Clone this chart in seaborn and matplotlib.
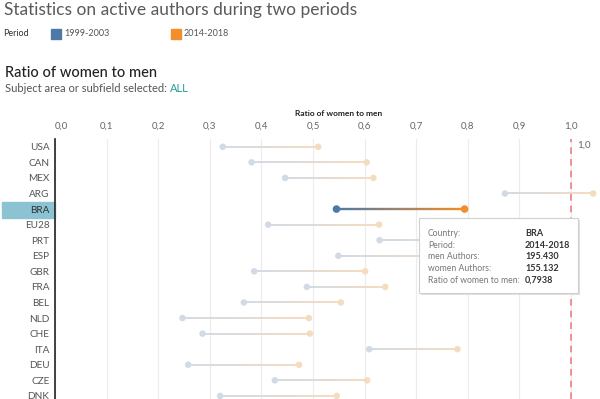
import numpy as np
import pandas as pd
import matplotlib
matplotlib.use("Agg")
import matplotlib.pyplot as plt
import seaborn as sns
from matplotlib.collections import LineCollection
from matplotlib.colors import to_rgb
from matplotlib.patches import Rectangle, FancyBboxPatch

countries = ["USA", "CAN", "MEX", "ARG", "BRA", "EU28", "PRT", "ESP", "GBR",
             "FRA", "BEL", "NLD", "CHE", "ITA", "DEU", "CZE", "DNK"]
ratio_1999_2003 = [0.325, 0.381, 0.446, 0.872, 0.5455, 0.413, 0.629, 0.549, 0.386,
                   0.488, 0.366, 0.247, 0.286, 0.609, 0.258, 0.426, 0.320]
ratio_2014_2018 = [0.510, 0.604, 0.617, 1.043, 0.7938, 0.628, 0.940, 0.780, 0.601,
                   0.640, 0.554, 0.492, 0.494, 0.780, 0.473, 0.605, 0.546]
periods = ["1999-2003", "2014-2018"]
selected = "BRA"
xticks = [0.0, 0.1, 0.2, 0.3, 0.4, 0.5, 0.6, 0.7, 0.8, 0.9, 1.0]
reference = 1.0
tooltip_labels = ["Country:", "Period:", "men Authors:", "women Authors:", "Ratio of women to men:"]
tooltip_values = ["BRA", "2014-2018", "195.430", "155.132", "0,7938"]

BLUE = "#4e79a7"
ORANGE = "#f28e2b"
PALE_BLUE = "#d2dae5"
PALE_ORANGE = "#f4dcc0"

sns.set_theme(style="white")
plt.rcParams['font.family'] = ['Lato', 'DejaVu Sans']

fig = plt.figure(figsize=(6, 3.99), dpi=100)
W, H = 600, 399
ax = fig.add_axes([55 / W, 0, 545 / W, 260 / H])

df = pd.DataFrame({
    "country": countries * 2,
    "period": [periods[0]] * len(countries) + [periods[1]] * len(countries),
    "ratio": ratio_1999_2003 + ratio_2014_2018,
})
df["idx"] = df["country"].map({c: i for i, c in enumerate(countries)})
df["active"] = df["country"] == selected

ax.set_xlim(0, (600 - 55) / 516)
ax.set_ylim(len(countries) - 0.8, -0.5)

# grid lines
for t in xticks:
    ax.axvline(t, color="#ececec", lw=0.8, zorder=0)

# gradient lines
def grad_line(i, a, b, c1, c2, lw, z):
    xs = np.linspace(a, b, 80)
    pts = np.column_stack([xs, np.full_like(xs, i)])
    segs = np.stack([pts[:-1], pts[1:]], axis=1)
    r1, r2 = np.array(to_rgb(c1)), np.array(to_rgb(c2))
    f = np.linspace(0, 1, len(segs))[:, None]
    cols = r1 * (1 - f) + r2 * f
    lc = LineCollection(segs, colors=cols, linewidths=lw, zorder=z, capstyle="butt")
    ax.add_collection(lc)

for i, c in enumerate(countries):
    if c == selected:
        grad_line(i, ratio_1999_2003[i], ratio_2014_2018[i], BLUE, ORANGE, 1.7, 3)
    else:
        grad_line(i, ratio_1999_2003[i], ratio_2014_2018[i], PALE_BLUE, PALE_ORANGE, 1.4, 2)

inactive = df[~df["active"]]
active = df[df["active"]]
sns.scatterplot(data=inactive, x="ratio", y="idx", hue="period",
                palette={periods[0]: PALE_BLUE, periods[1]: PALE_ORANGE},
                s=22, linewidth=0, ax=ax, legend=False, zorder=4)
sns.scatterplot(data=active, x="ratio", y="idx", hue="period",
                palette={periods[0]: BLUE, periods[1]: ORANGE},
                s=30, linewidth=0, ax=ax, legend=False, zorder=5)

# reference line
ax.axvline(reference, color="#ee7f86", lw=1.2, ls=(0, (4, 3)), zorder=6)
ax.text(reference + 0.012, -0.1, "1,0", fontsize=7, color="#666666",
        va="center", ha="left", zorder=7)

# axes styling
for s in ["top", "right", "bottom"]:
    ax.spines[s].set_visible(False)
ax.spines["left"].set_color("#222222")
ax.spines["left"].set_linewidth(1.2)
ax.set_xticks(xticks)
ax.set_xticklabels([f"{t:.1f}".replace(".", ",") for t in xticks])
ax.xaxis.tick_top()
ax.tick_params(axis="x", length=0, labelsize=7, labelcolor="#666666", pad=6)
first = ax.get_xticklabels()[0]
first.set_ha("left")
first.set_x(0.003)
ax.set_yticks(range(len(countries)))
ax.set_yticklabels(countries)
ax.tick_params(axis="y", length=0, labelsize=7.2, labelcolor="#555555", pad=4)
ax.set_xlabel("")
ax.set_ylabel("")
for lab in ax.get_yticklabels():
    if lab.get_text() == selected:
        lab.set_color("#333333")

# highlight box for selected row (drawn behind the axes)
fig.patches.append(Rectangle((2 / W, (399 - 218) / H), 53 / W, 16 / H,
                             transform=fig.transFigure, color="#8cc3d3", zorder=-5))
ax.set_facecolor("none")
ax.patch.set_alpha(0)

# titles
fig.text(4 / W, 1 - 10 / H, "Statistics on active authors during two periods",
         fontsize=12.5, color="#5a5a5a", va="center", ha="left")
fig.text(3 / W, 1 - 34 / H, "Period", fontsize=6.5, color="#333333", va="center")
for px, col, lab in [(51, BLUE, periods[0]), (171, ORANGE, periods[1])]:
    fig.patches.append(Rectangle((px / W, 1 - 38.5 / H), 10 / W, 9 / H,
                                 transform=fig.transFigure, color=col))
    fig.text((px + 13) / W, 1 - 34 / H, lab, fontsize=6.5, color="#555555", va="center")

fig.text(5 / W, 1 - 73 / H, "Ratio of women to men", fontsize=10.5, color="#222222",
         va="center", ha="left", fontweight="medium")
t1 = fig.text(5 / W, 1 - 89 / H, "Subject area or subfield selected: ", fontsize=8,
              color="#555555", va="center", ha="left")
fig.canvas.draw()
bb = t1.get_window_extent()
fig.text(bb.x1 / W, 1 - 89 / H, "ALL", fontsize=8, color="#2a9d9a", va="center", ha="left")

fig.text(339 / W, 1 - 114 / H, "Ratio of women to men", fontsize=6, color="#222222",
         fontweight="bold", va="center", ha="center")

# tooltip
fig.patches.append(FancyBboxPatch((421 / W, 1 - 295 / H), 159 / W, 75 / H,
                                  boxstyle="square,pad=0", transform=fig.transFigure,
                                  facecolor="#cccccc", edgecolor="none", zorder=8, alpha=0.6))
fig.patches.append(FancyBboxPatch((419 / W, 1 - 293 / H), 159 / W, 75 / H,
                                  boxstyle="square,pad=0", transform=fig.transFigure,
                                  facecolor="white", edgecolor="#d0d0d0", lw=0.8, zorder=9))
for k, (l, v) in enumerate(zip(tooltip_labels, tooltip_values)):
    y = 1 - (233.5 + 11.7 * k) / H
    fig.text(428 / W, y, l, fontsize=6.2, color="#777777", va="center", ha="left", zorder=10)
    fig.text(525 / W, y, v, fontsize=6.5, color="#333333", va="center", ha="left",
             fontweight="bold", zorder=10)

fig.savefig("out.png", dpi=100)
